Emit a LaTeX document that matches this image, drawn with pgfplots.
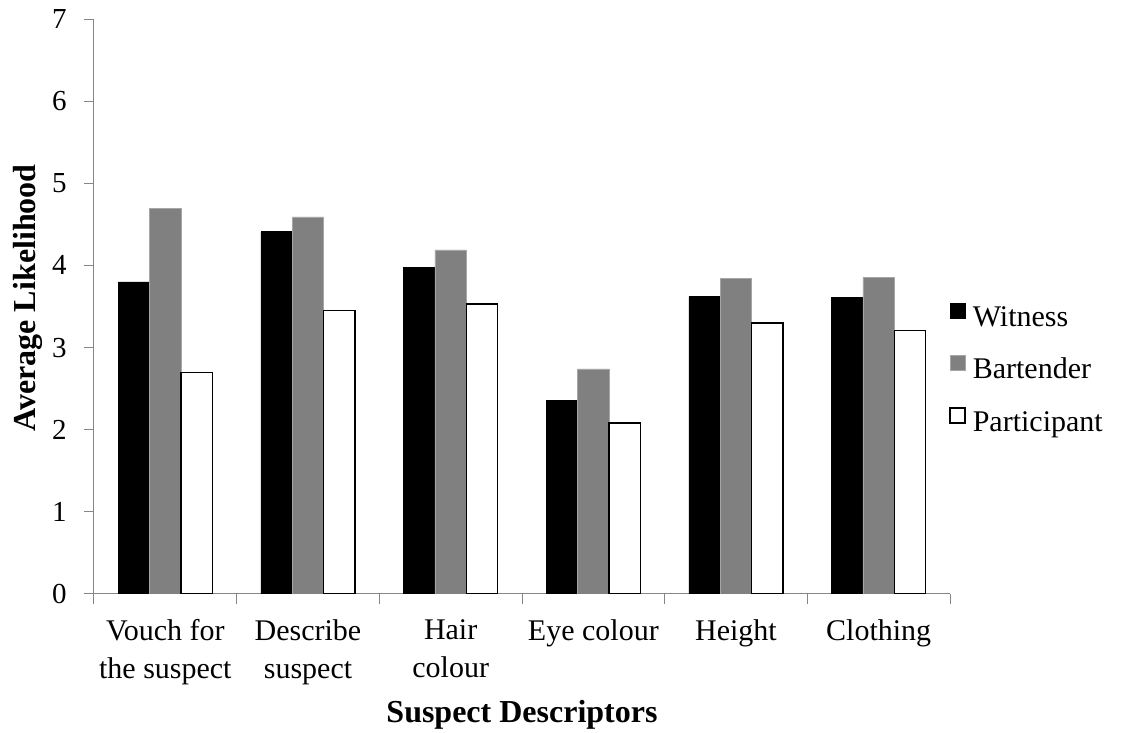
\documentclass[border=0pt]{standalone}
\usepackage{fontspec}
\setmainfont{Liberation Serif}
\usepackage{pgfplots}
\pgfplotsset{compat=1.18}
\definecolor{axisgray}{HTML}{868686}
\definecolor{bargray}{HTML}{808080}
\begin{document}
\begin{tikzpicture}
\useasboundingbox (-47pt,-69.5pt) rectangle (513.5pt,297pt);
\begin{axis}[
  at={(0,0)}, anchor=south west,
  scale only axis, width=428pt, height=287.5pt,
  ybar=0pt, bar width=0.22,
  xmin=-0.5, xmax=5.5, ymin=0, ymax=7,
  axis x line=bottom, axis y line=left,
  axis line style={draw=axisgray, line width=0.5pt, -},
  /pgf/number format/assume math mode=true,
  ytick={0,...,7},
  xtick={0,...,5},
  xticklabels={{Vouch for\\the suspect},{Describe\\suspect},{Hair\\colour},{Eye colour},{Height},{Clothing}},
  minor xtick={-0.5,0.5,...,5.5},
  tick align=outside,
  major tick length=5pt, minor tick length=5pt,
  major x tick style={draw=none},
  major y tick style={draw=axisgray, line width=0.5pt},
  minor x tick style={draw=axisgray, line width=0.5pt},
  yticklabel style={font=\fontsize{14.5}{17}\selectfont, anchor=east, inner sep=0pt, xshift=-8.5pt},
  xticklabel style={font=\fontsize{15}{19}\selectfont, align=center, anchor=north, inner sep=0pt, yshift=-7.5pt},
  xlabel={Suspect Descriptors},
  ylabel={Average Likelihood},
  xlabel style={font=\fontsize{16}{19}\selectfont\bfseries, at={(axis description cs:0.5,-0.2243)}, anchor=base},
  ylabel style={font=\fontsize{16}{19}\selectfont\bfseries, at={(axis description cs:-0.0774,0.515)}, anchor=center},
  legend image code/.code={\draw[#1] (0pt,0pt) rectangle (7.5pt,7.5pt);},
  legend cell align=left,
  legend style={at={(rel axis cs:1,0.3896)}, anchor=west, xshift=-0.3pt, draw=none, fill=none,
    inner sep=0pt, outer sep=0pt, row sep=11.5pt,
    font=\fontsize{15}{18}\selectfont,
    nodes={inner sep=0pt, text height=11pt, text depth=3pt},
    /tikz/every odd column/.style={column sep=3.5pt}},
]
\addplot[fill=black, draw=black, line width=0.3pt] coordinates {(0,3.80) (1,4.41) (2,3.98) (3,2.36) (4,3.62) (5,3.61)};
\addplot[fill=bargray, draw=gray!70, line width=0.3pt] coordinates {(0,4.69) (1,4.59) (2,4.19) (3,2.74) (4,3.84) (5,3.85)};
\addplot[fill=white, draw=black, line width=0.7pt] coordinates {(0,2.70) (1,3.45) (2,3.53) (3,2.08) (4,3.30) (5,3.21)};
\legend{Witness, Bartender, Participant}
\end{axis}
\end{tikzpicture}
\end{document}
